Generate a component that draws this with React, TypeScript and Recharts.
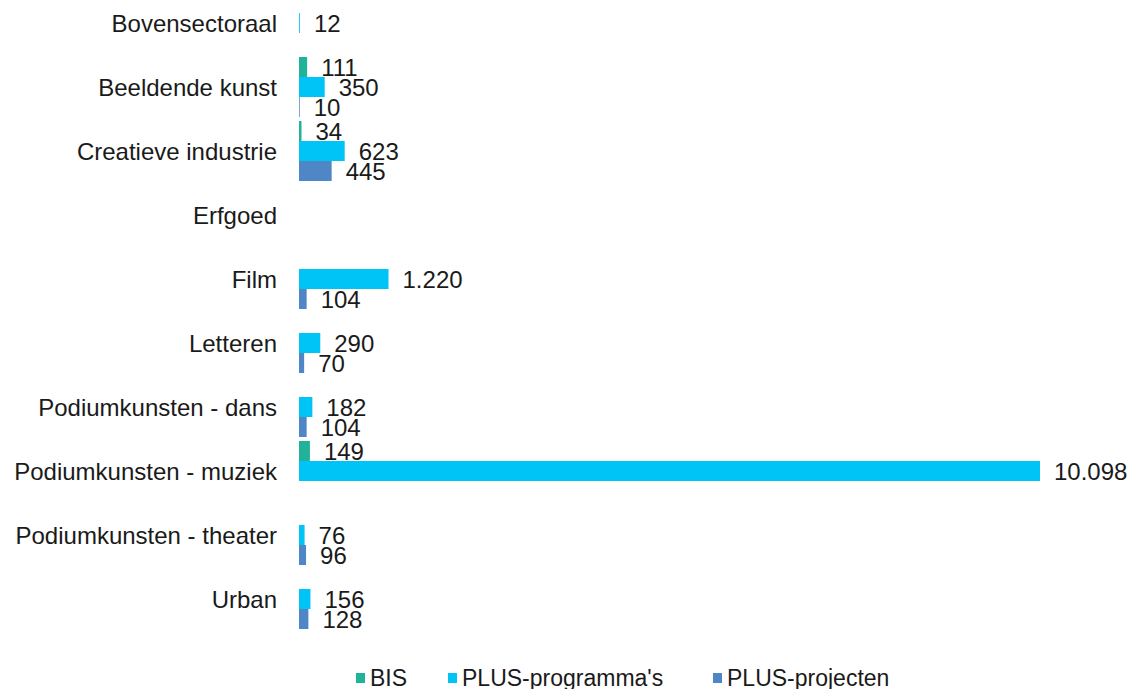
import { Bar, BarChart, LabelList, XAxis, YAxis } from 'recharts'

const categories = [
  'Bovensectoraal',
  'Beeldende kunst',
  'Creatieve industrie',
  'Erfgoed',
  'Film',
  'Letteren',
  'Podiumkunsten - dans',
  'Podiumkunsten - muziek',
  'Podiumkunsten - theater',
  'Urban',
]
const bis = [null, 111, 34, null, null, null, null, 149, null, null]
const plusProgrammas = [12, 350, 623, null, 1220, 290, 182, 10098, 76, 156]
const plusProjecten = [null, 10, 445, null, 104, 70, 104, null, 96, 128]

const series = [
  { key: 'bis', name: 'BIS', color: '#20b39a' },
  { key: 'prog', name: "PLUS-programma's", color: '#00c3f6' },
  { key: 'proj', name: 'PLUS-projecten', color: '#4f86c6' },
]

const data = categories.map((name, i) => ({
  name,
  bis: bis[i],
  prog: plusProgrammas[i],
  proj: plusProjecten[i],
}))

const FONT = '"Liberation Sans", Arial, sans-serif'
// left edge of each legend item, matching the source layout
const legendLeft = [356, 448, 713]

function fmt(v: unknown): string {
  if (v == null || v === '') return ''
  return String(v).replace(/\B(?=(\d{3})+(?!\d))/g, '.')
}

export default function App() {
  return (
    <div style={{ position: 'absolute', left: 0, top: -9, width: 1143, height: 698, fontFamily: FONT }}>
      <BarChart
        width={1143}
        height={698}
        data={data}
        layout="vertical"
        margin={{ top: 0, right: 103, left: 0, bottom: 58 }}
        barCategoryGap={2}
        barGap={0}
      >
        <XAxis type="number" hide domain={[0, 'dataMax']} />
        <YAxis
          type="category"
          dataKey="name"
          width={299}
          axisLine={false}
          tickLine={false}
          tickSize={0}
          tickMargin={22}
          interval={0}
          tick={{ fill: '#1a1a1a', fontSize: 24, fontFamily: FONT }}
        />
        {series.map(s => (
          <Bar key={s.key} dataKey={s.key} name={s.name} fill={s.color} isAnimationActive={false}>
            <LabelList
              dataKey={s.key}
              position="right"
              offset={14}
              formatter={fmt}
              style={{ fill: '#1a1a1a', fontSize: 24, fontFamily: FONT }}
            />
          </Bar>
        ))}
      </BarChart>
      {series.map((s, i) => (
        <div
          key={s.key}
          style={{
            position: 'absolute',
            left: legendLeft[i],
            top: 675,
            display: 'flex',
            alignItems: 'center',
            gap: 5,
            fontSize: 23,
            lineHeight: '24px',
            color: '#1a1a1a',
            whiteSpace: 'nowrap',
          }}
        >
          <span style={{ width: 9, height: 10, background: s.color, display: 'inline-block' }} />
          {s.name}
        </div>
      ))}
    </div>
  )
}
